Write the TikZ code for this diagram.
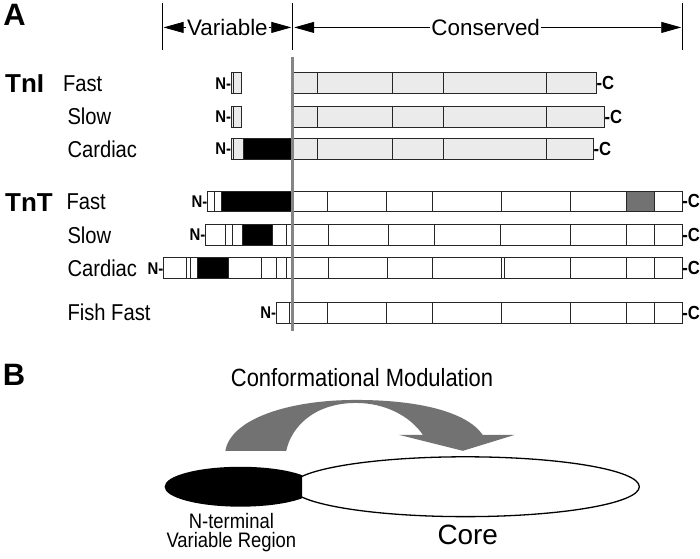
\documentclass[tikz,border=0pt]{standalone}
\usepackage{fontspec}
\setmainfont{Liberation Sans}
\newfontfamily\narrowfont[FakeStretch=0.88]{Liberation Sans}
\usetikzlibrary{arrows.meta, shapes.geometric}

\definecolor{lightfill}{HTML}{EBEBEB}
\definecolor{splitgray}{HTML}{858585}
\definecolor{arcgray}{HTML}{727272}

\begin{document}
\begin{tikzpicture}[
    x=1pt, y=-1pt,
    panel/.style={font=\bfseries\fontsize{31}{33}\selectfont, inner sep=0},
    family/.style={font=\bfseries\fontsize{26}{28}\selectfont, anchor=west, inner sep=0},
    isoform/.style={font=\narrowfont\fontsize{23}{25}\selectfont, anchor=west, inner sep=0},
    region/.style={font=\fontsize{22.5}{24}\selectfont, fill=white, inner sep=1pt},
    nend/.style={font=\narrowfont\bfseries\fontsize{17}{18}\selectfont, anchor=east, inner sep=0},
    cend/.style={font=\narrowfont\bfseries\fontsize{19}{20}\selectfont, anchor=west, inner sep=0},
    tick/.style={line width=0.8pt},
    dim/.style={line width=0.8pt, -{Triangle[length=20pt, width=11pt]}},
    seg/.style={draw=black!85, line width=1pt},
    tni/.style={seg, fill=lightfill},
    tnt/.style={seg, fill=white},
    blob/.style={ellipse, inner sep=0},
    caption/.style={font=\narrowfont\fontsize{21}{20}\selectfont, align=center, inner sep=0}
]
\fill[white] (0,0) rectangle (700,560);

% Panel A: header
\node[panel] (A) at (14.5,15) {A};
\draw[tick] (163,3) -- (163,50);
\draw[tick] (293.5,3) -- (293.5,50);
\draw[tick] (684,3) -- (684,50);

\node[region] (var) at (228,27.5) {Variable};
\node[region] (cons) at (487,27.5) {Conserved};
\coordinate (varL) at (164,27.5);
\coordinate (varR) at (292,27.5);
\coordinate (consL) at (295,27.5);
\coordinate (consR) at (683,27.5);
\draw[dim] (var) -- (varL);
\draw[dim] (var) -- (varR);
\draw[dim] (cons) -- (consL);
\draw[dim] (cons) -- (consR);

% TnI
\node[family] (tni) at (5,84) {TnI};
\node[isoform] (tnifast) at (63,83.5) {Fast};
\node[isoform] (tnislow) at (67.5,117) {Slow};
\node[isoform] (tnicard) at (67.5,149.5) {Cardiac};

\draw[tni] (232,73) rectangle (242,94);
\draw[seg] (234.5,73) -- (234.5,94);
\draw[tni] (293,73) rectangle (598,94);
\foreach \x in {318,394,445,548} \draw[seg] (\x,73) -- (\x,94);
\node[nend] (nifast) at (232,83.5) {N-};
\node[cend] (cifast) at (598,83.5) {-C};

\draw[tni] (232,106.5) rectangle (242,127.5);
\draw[seg] (234.5,106.5) -- (234.5,127.5);
\draw[tni] (293,106.5) rectangle (606,127.5);
\foreach \x in {318,394,445,548} \draw[seg] (\x,106.5) -- (\x,127.5);
\node[nend] (nislow) at (232,117) {N-};
\node[cend] (cislow) at (606,117) {-C};

\fill[lightfill] (232,139) rectangle (595,160);
\fill (244,139) rectangle (293,160);
\draw[seg] (232,139) rectangle (595,160);
\foreach \x in {234.5,244,293,318,394,445,548} \draw[seg] (\x,139) -- (\x,160);
\node[nend] (nicard) at (232,149.5) {N-};
\node[cend] (cicard) at (595,149.5) {-C};

% TnT
\node[family] (tnt) at (5,203) {TnT};
\node[isoform] (tntfast) at (66.5,202) {Fast};
\node[isoform] (tntslow) at (67.5,235.5) {Slow};
\node[isoform] (tntcard) at (67.5,269) {Cardiac};
\node[isoform] (tntfish) at (67.5,313.5) {Fish Fast};

\fill[white] (208,191.5) rectangle (684,212.5);
\fill (222,191.5) rectangle (293,212.5);
\fill[arcgray] (628,191.5) rectangle (656,212.5);
\draw[seg] (208,191.5) rectangle (684,212.5);
\foreach \x in {215,222,293,328,388,434,503,572,628,656} \draw[seg] (\x,191.5) -- (\x,212.5);
\node[nend] (ntfast) at (208,202) {N-};
\node[cend] (ctfast) at (684,202) {-C};

\fill[white] (206,225) rectangle (684,246);
\fill (243,225) rectangle (273,246);
\draw[seg] (206,225) rectangle (684,246);
\foreach \x in {226,233,243,273,287,293,329,390,436,502,572,628,656} \draw[seg] (\x,225) -- (\x,246);
\node[nend] (ntslow) at (206,235.5) {N-};
\node[cend] (ctslow) at (684,235.5) {-C};

\fill[white] (164,258.5) rectangle (684,279.5);
\fill (198,258.5) rectangle (229,279.5);
\draw[seg] (164,258.5) rectangle (684,279.5);
\foreach \x in {187,191,198,229,262,277,287,293,329,389,434,503,506,572,628,656} \draw[seg] (\x,258.5) -- (\x,279.5);
\node[nend] (ntcard) at (164,269) {N-};
\node[cend] (ctcard) at (684,269) {-C};

\draw[tnt] (277,303) rectangle (684,324);
\foreach \x in {290,293,328,388,434,503,572,628,656} \draw[seg] (\x,303) -- (\x,324);
\node[nend] (ntfish) at (277,313.5) {N-};
\node[cend] (ctfish) at (684,313.5) {-C};

% split between variable and conserved parts
\coordinate (splittop) at (293,57);
\coordinate (splitbot) at (293,332);
\draw[splitgray, line width=3.2pt] (splittop) -- (splitbot);

% Panel B
\node[panel] (B) at (14,376) {B};
\node[font=\narrowfont\fontsize{25}{27}\selectfont, inner sep=0] (modul) at (363,379) {Conformational Modulation};

\fill[arcgray] (226,452) .. controls (231,421) and (287,401) .. (357,401)
    .. controls (420,401) and (468,413) .. (484,436) -- (516,436) -- (464,452)
    -- (400,436) -- (424,436) .. controls (411,417) and (386,404) .. (357,404)
    .. controls (315,404) and (292,428) .. (287,452) -- cycle;

\node[blob, draw, line width=1.3pt, fill=white, minimum width=349pt, minimum height=60pt] (core) at (466.5,488) {};
\begin{scope}
    \clip (0,440) rectangle (303,540);
    \node[blob, fill=black, minimum width=152pt, minimum height=40pt] (nreg) at (241,488) {};
\end{scope}

\node[caption, anchor=north] (nlabel) at (232,514) {N-terminal\\Variable Region};
\node[font=\fontsize{28}{30}\selectfont, inner sep=0] (corelabel) at (469,536) {Core};

\end{tikzpicture}
\end{document}
